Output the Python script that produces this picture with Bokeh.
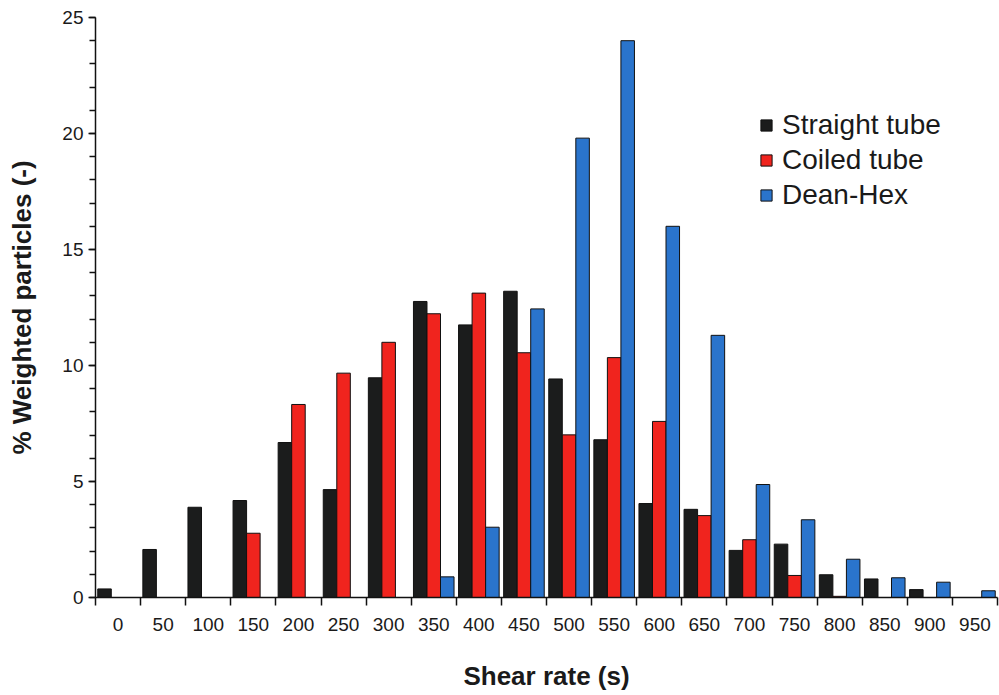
from bokeh.plotting import figure
from bokeh.models import ColumnDataSource, FixedTicker, SingleIntervalTicker, Range1d
from bokeh.transform import dodge
from bokeh.embed import file_html
from bokeh.resources import INLINE

shear = [0, 50, 100, 150, 200, 250, 300, 350, 400, 450,
         500, 550, 600, 650, 700, 750, 800, 850, 900, 950]
straight = [0.37, 2.07, 3.89, 4.18, 6.68, 4.65, 9.47, 12.76, 11.75, 13.2,
            9.42, 6.8, 4.05, 3.8, 2.03, 2.3, 0.98, 0.8, 0.34, 0.0]
coiled = [0.0, 0.0, 0.0, 2.77, 8.32, 9.67, 11.0, 12.23, 13.12, 10.55,
          7.01, 10.34, 7.59, 3.53, 2.49, 0.95, 0.05, 0.0, 0.0, 0.0]
dean = [0.0, 0.0, 0.0, 0.0, 0.0, 0.0, 0.0, 0.89, 3.03, 12.44,
        19.8, 24.0, 16.0, 11.3, 4.87, 3.35, 1.65, 0.85, 0.66, 0.29]
series_names = ["Straight tube", "Coiled tube", "Dean-Hex"]
colors = ["#1b1c1c", "#f0241e", "#2a74cc"]

source = ColumnDataSource(dict(x=shear, straight=straight, coiled=coiled, dean=dean))

p = figure(width=999, height=695, x_range=Range1d(-25, 975), y_range=Range1d(0, 25),
           output_backend="svg", toolbar_location=None,
           min_border_left=95, min_border_right=2, min_border_top=17, min_border_bottom=98)

bar_w = 15
for col, off, name, c in zip(["straight", "coiled", "dean"], [-bar_w, 0, bar_w], series_names, colors):
    p.vbar(x=dodge("x", off, range=p.x_range), top=col, width=bar_w, bottom=0, source=source,
           fill_color=c, line_color="#111111", line_width=1, legend_label=name)

p.xgrid.grid_line_color = None
p.ygrid.grid_line_color = None
p.outline_line_color = None
p.background_fill_color = "white"
p.border_fill_color = "white"

font = "Liberation Sans"
# x axis
p.xaxis.ticker = FixedTicker(ticks=shear, minor_ticks=[s - 25 for s in shear] + [975])
p.xaxis.major_tick_out = 0
p.xaxis.major_tick_in = 0
p.xaxis.minor_tick_out = 8
p.xaxis.minor_tick_in = 0
p.xaxis.minor_tick_line_color = "#111111"
p.xaxis.minor_tick_line_width = 1.5
p.xaxis.major_label_standoff = 12
p.xaxis.axis_label = "Shear rate (s)"
p.xaxis.axis_label_standoff = 27

# y axis
p.yaxis.ticker = SingleIntervalTicker(interval=5, num_minor_ticks=5)
p.yaxis.major_tick_out = 7
p.yaxis.major_tick_in = 0
p.yaxis.minor_tick_out = 6
p.yaxis.minor_tick_in = 0
p.yaxis.major_tick_line_width = 1.5
p.yaxis.minor_tick_line_width = 1.5
p.yaxis.major_tick_line_color = "#111111"
p.yaxis.minor_tick_line_color = "#111111"
p.yaxis.major_label_standoff = 5
p.yaxis.axis_label = "% Weighted particles (-)"
p.yaxis.axis_label_standoff = 22

for ax in (p.xaxis, p.yaxis):
    ax.axis_line_color = "#111111"
    ax.axis_line_width = 1.5
    ax.major_label_text_font = font
    ax.major_label_text_font_size = "19px"
    ax.major_label_text_color = "#1a1a1a"
    ax.axis_label_text_font = font
    ax.axis_label_text_font_size = "26px"
    ax.axis_label_text_font_style = "bold"
    ax.axis_label_text_color = "#1a1a1a"

lg = p.legend[0]
lg.location = (664, 386)
lg.border_line_color = None
lg.background_fill_alpha = 0
lg.padding = 0
lg.margin = 0
lg.spacing = 3
lg.glyph_width = 14
lg.glyph_height = 14
lg.label_height = 31
lg.label_standoff = 9
lg.label_text_font = font
lg.label_text_font_size = "28px"
lg.label_text_color = "#1a1a1a"

open("out.html", "w").write(file_html(p, INLINE))
